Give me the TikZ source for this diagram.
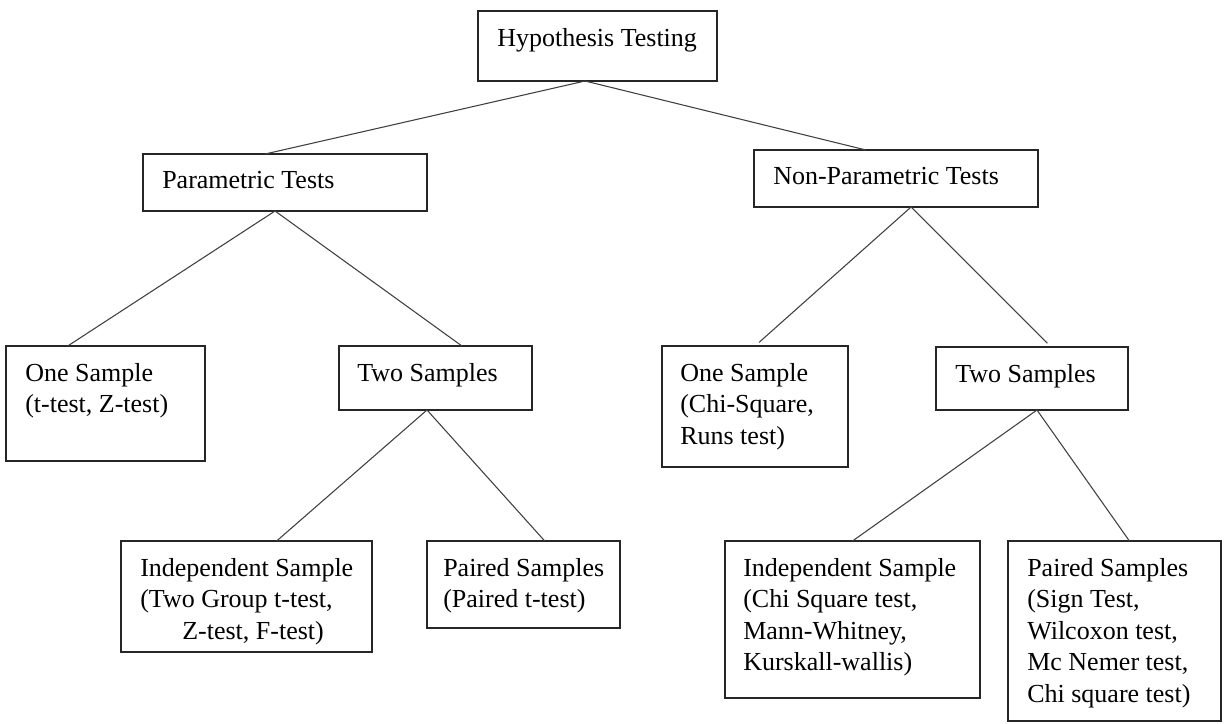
\documentclass[tikz,border=0pt]{standalone}
\usepackage{fontspec}
\setmainfont{Liberation Serif}
\usetikzlibrary{calc}
\newcommand\mkbox[5]{\node[boxst, anchor=north west, minimum width={(#4-#2)*0.75pt}, minimum height={(#5-#3)*0.75pt}] (#1) at (#2,#3) {};}
\begin{document}
\begin{tikzpicture}[x=0.75pt, y=-0.75pt,
  boxst/.style={draw=black!85, line width=1pt, rectangle, inner sep=0pt, outer sep=0pt, fill=white},
  txt/.style={anchor=north west, inner sep=0pt, align=left, font=\fontsize{19.5pt}{23.6pt}\selectfont},
  conn/.style={draw=black!75, line width=0.8pt}]
\useasboundingbox (0,0) rectangle (1225,724);
\fill[white] (0,0) rectangle (1225,724);
% boxes
\mkbox{hyp}{478}{11}{717}{81}
\mkbox{par}{143}{154}{427}{211}
\mkbox{npar}{754}{150}{1038}{207}
\mkbox{oneL}{6}{346}{205}{461}
\mkbox{twoL}{339}{346}{532}{410}
\mkbox{oneR}{662}{346}{848}{467}
\mkbox{twoR}{936}{347}{1128}{410}
\mkbox{indL}{121}{541}{372}{652}
\mkbox{parL}{427}{541}{620}{628}
\mkbox{indR}{725}{541}{980}{698}
\mkbox{parR}{1008}{541}{1221}{721}
% texts
\node[txt] (thyp) at ($(hyp.north west)+(19,17)$) {Hypothesis Testing};
\node[txt] (tpar) at ($(par.north west)+(19,17)$) {Parametric Tests};
\node[txt] (tnpar) at ($(npar.north west)+(19,17)$) {Non-Parametric Tests};
\node[txt] (toneL) at ($(oneL.north west)+(19,17)$) {One Sample\\(t-test, Z-test)};
\node[txt] (ttwoL) at ($(twoL.north west)+(18,17)$) {Two Samples};
\node[txt] (toneR) at ($(oneR.north west)+(18,17)$) {One Sample\\(Chi-Square,\\Runs test)};
\node[txt] (ttwoR) at ($(twoR.north west)+(19,17)$) {Two Samples};
\node[txt] (tindL) at ($(indL.north west)+(19,17)$) {Independent Sample\\(Two Group t-test,\\\hspace*{31.5pt}Z-test, F-test)};
\node[txt] (tparL) at ($(parL.north west)+(16,17)$) {Paired Samples\\(Paired t-test)};
\node[txt] (tindR) at ($(indR.north west)+(18,17)$) {Independent Sample\\(Chi Square test,\\Mann-Whitney,\\Kurskall-wallis)};
\node[txt] (tparR) at ($(parR.north west)+(19,17)$) {Paired Samples\\(Sign Test,\\Wilcoxon test,\\Mc Nemer test,\\Chi square test)};
% connectors
\draw[conn] ($(hyp.south west)!0.448!(hyp.south east)$) -- ($(par.north west)!0.43!(par.north east)$);
\draw[conn] ($(hyp.south west)!0.448!(hyp.south east)$) -- ($(npar.north west)!0.394!(npar.north east)$);
\draw[conn] ($(par.south west)!0.465!(par.south east)$) -- ($(oneL.north west)!0.31!(oneL.north east)$);
\draw[conn] ($(par.south west)!0.465!(par.south east)$) -- ($(twoL.north west)!0.637!(twoL.north east)$);
\draw[conn, shorten >=4pt] ($(npar.south west)!0.553!(npar.south east)$) -- ($(oneR.north west)!0.5!(oneR.north east)$);
\draw[conn, shorten >=4pt] ($(npar.south west)!0.553!(npar.south east)$) -- ($(twoR.north west)!0.6!(twoR.north east)$);
\draw[conn] ($(twoL.south west)!0.456!(twoL.south east)$) -- ($(indL.north west)!0.62!(indL.north east)$);
\draw[conn] ($(twoL.south west)!0.456!(twoL.south east)$) -- ($(parL.north west)!0.61!(parL.north east)$);
\draw[conn] ($(twoR.south west)!0.526!(twoR.south east)$) -- ($(indR.north west)!0.5!(indR.north east)$);
\draw[conn] ($(twoR.south west)!0.526!(twoR.south east)$) -- ($(parR.north west)!0.57!(parR.north east)$);
\end{tikzpicture}
\end{document}
